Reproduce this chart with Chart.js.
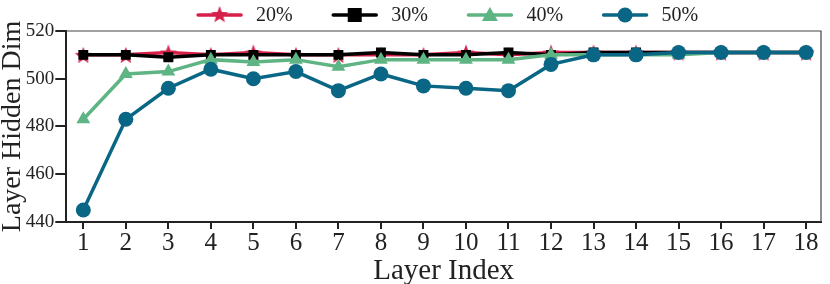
<!DOCTYPE html>
<html>
<head>
<meta charset="utf-8">
<script src="https://cdn.jsdelivr.net/npm/chart.js@4.4.0/dist/chart.umd.min.js"></script>
<style>
  html, body { margin: 0; padding: 0; background: #fff; }
  #wrap { width: 830px; height: 284px; }
</style>
</head>
<body>
<div id="wrap"><canvas id="layerChart"></canvas></div>
<script>
let layers = [1,2,3,4,5,6,7,8,9,10,11,12,13,14,15,16,17,18];
let y_ticks = [440, 460, 480, 500, 520];
let series_names = ['20%', '30%', '40%', '50%'];

let dim_20 = [510,510,511,510,511,510,510,510,510,511,510,511,511,511,511,511,511,511];
let dim_30 = [510,510,509,510,510,510,510,511,510,510,511,510,511,511,511,511,511,511];
let dim_40 = [483,502,503,508,507,508,505,508,508,508,508,510,510,510,510,511,511,511];
let dim_50 = [445,483,496,504,500,503,495,502,497,496,495,506,510,510,511,511,511,511];

let colors = ['#d6204a', '#000000', '#5fb483', '#0a6685'];
let font_family = '"Liberation Serif", "Times New Roman", serif';

function starCanvas(color, r) {
	let c = document.createElement('canvas');
	c.width = r * 2 + 2; c.height = r * 2 + 2;
	let ctx = c.getContext('2d');
	let cx = c.width / 2, cy = c.height / 2 + 1;
	ctx.beginPath();
	for (let i = 0; i < 10; i++) {
		let rad = i % 2 === 0 ? r : r * 0.42;
		let a = -Math.PI / 2 + i * Math.PI / 5;
		ctx.lineTo(cx + rad * Math.cos(a), cy + rad * Math.sin(a));
	}
	ctx.closePath();
	ctx.fillStyle = color;
	ctx.fill();
	return c;
}

let star = starCanvas(colors[0], 9);
let styles = [star, 'rect', 'triangle', 'circle'];
let radii = [9, 7, 8, 7.5];

let all_dims = [dim_20, dim_30, dim_40, dim_50];

let layer_data = {
	datasets: all_dims.map((d, i) => ({
		label: series_names[i],
		data: layers.map((x, j) => ({x: x, y: d[j]})),
		borderColor: colors[i],
		backgroundColor: colors[i],
		borderWidth: 3.5,
		pointStyle: styles[i],
		pointRadius: radii[i],
		pointHoverRadius: radii[i],
		pointBorderWidth: 0,
		order: 4 - i
	}))
};

// top/right frame of the plot
let boxPlugin = {
	id: 'boxPlugin',
	afterDraw(chart) {
		let a = chart.chartArea, ctx = chart.ctx;
		ctx.save();
		ctx.strokeStyle = '#444';
		ctx.lineWidth = 1.2;
		ctx.beginPath();
		ctx.moveTo(a.left, a.top); ctx.lineTo(a.right, a.top); ctx.lineTo(a.right, a.bottom);
		ctx.stroke();
		ctx.restore();
	}
};

// legend with line + marker swatches, centred over the plot
let legendPlugin = {
	id: 'lineLegend',
	afterDraw(chart) {
		let ctx = chart.ctx, a = chart.chartArea;
		let sw = 45, gap = 14, sep = 39.5, y = 15;
		ctx.save();
		ctx.font = '20px ' + font_family;
		let widths = series_names.map(n => sw + gap + ctx.measureText(n).width);
		let total = widths.reduce((s, w) => s + w, 0) + sep * (widths.length - 1);
		let x = (a.left + a.right) / 2 - total / 2 + 4;
		series_names.forEach((n, i) => {
			ctx.strokeStyle = colors[i];
			ctx.fillStyle = colors[i];
			ctx.lineWidth = 3.5;
			ctx.lineCap = 'round';
			ctx.beginPath();
			ctx.moveTo(x + 1, y); ctx.lineTo(x + sw - 1, y);
			ctx.stroke();
			let cx = x + sw / 2;
			if (i === 0) {
				ctx.drawImage(star, cx - star.width / 2, y - star.height / 2 - 1);
			} else if (i === 1) {
				ctx.fillRect(cx - 7, y - 7, 14, 14);
			} else if (i === 2) {
				ctx.beginPath();
				ctx.moveTo(cx, y - 8); ctx.lineTo(cx + 8, y + 6); ctx.lineTo(cx - 8, y + 6);
				ctx.closePath(); ctx.fill();
			} else {
				ctx.beginPath(); ctx.arc(cx, y, 7.5, 0, Math.PI * 2); ctx.fill();
			}
			ctx.fillStyle = '#222';
			ctx.textBaseline = 'middle';
			ctx.fillText(n, x + sw + gap, y + 1);
			x += widths[i] + sep;
		});
		ctx.restore();
	}
};

let layer_chart_options = {
	responsive: true,
	maintainAspectRatio: false,
	animation: false,
	layout: { padding: { left: 1, right: 2, top: 31, bottom: 0 } },
	scales: {
		x: {
			type: 'linear',
			min: 0.6,
			max: 18.35,
			afterBuildTicks: (axis) => { axis.ticks = layers.map(v => ({value: v})); },
			grid: { drawOnChartArea: false, color: '#222', lineWidth: 2, tickLength: 7 },
			border: { color: '#222', width: 2 },
			ticks: { color: '#222', font: { family: font_family, size: 25, lineHeight: 1 }, padding: 2, maxRotation: 0, autoSkip: false },
			title: { display: true, text: 'Layer Index', color: '#222', font: { family: font_family, size: 29, lineHeight: 0.9 }, padding: { top: 0, bottom: 0 } }
		},
		y: {
			min: 440,
			max: 520,
			afterBuildTicks: (axis) => { axis.ticks = y_ticks.map(v => ({value: v})); },
			grid: { drawOnChartArea: false, color: '#222', lineWidth: 2, tickLength: 11 },
			border: { color: '#222', width: 2 },
			ticks: { color: '#222', font: { family: font_family, size: 19 }, padding: 1 },
			title: { display: true, text: 'Layer Hidden Dim', color: '#222', font: { family: font_family, size: 28, lineHeight: 0.85 }, padding: { top: 0, bottom: 0 } }
		}
	},
	plugins: {
		legend: { display: false },
		tooltip: { enabled: false }
	}
};

let layerChart = new Chart('layerChart', {
	type: 'line',
	data: layer_data,
	options: layer_chart_options,
	plugins: [boxPlugin, legendPlugin]
});
</script>
</body>
</html>
